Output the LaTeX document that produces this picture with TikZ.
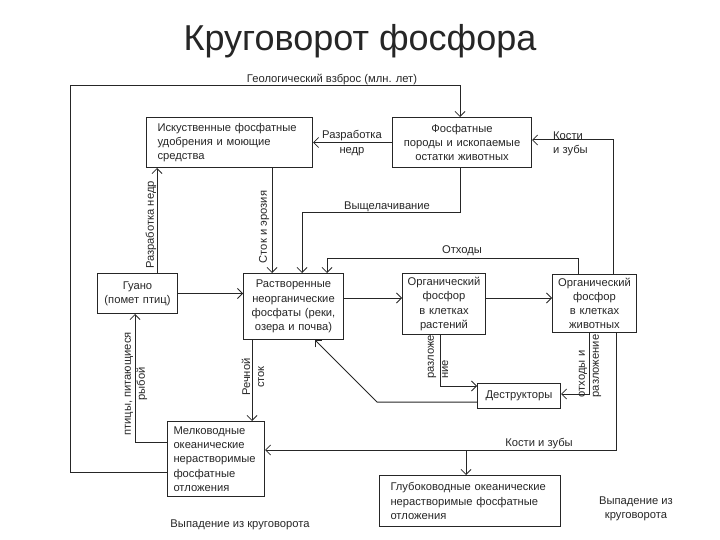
\documentclass[tikz,border=0pt]{standalone}
\usepackage{fontspec}
\setmainfont{Liberation Sans}
\usetikzlibrary{arrows.meta}
\begin{document}
\begin{tikzpicture}[x=1pt,y=-1pt,
  every node/.style={text=black!85},
  box/.style={draw=black!85, line width=1pt, inner ysep=0pt, font=\fontsize{11.2}{14.2}\selectfont, anchor=north west},
  cbox/.style={box, align=center},
  lbox/.style={box, align=left},
  conn/.style={draw=black!85, line width=1pt, -{Straight Barb[length=5pt,width=10pt,line width=0.8pt]}},
  lbl/.style={font=\fontsize{11.2}{14.2}\selectfont, inner sep=0pt},
]
\useasboundingbox (0,0) rectangle (720,540);

\node[font=\fontsize{36}{42}\selectfont, anchor=base] (title) at (360,51) {Круговорот фосфора};

% boxes
\node[lbox, text width=150pt, inner xsep=8pt, minimum height=50pt] (A) at (146,117)
  {\hspace*{3pt}Искуственные фосфатные\\\hspace*{3pt}удобрения и моющие\\\hspace*{3pt}средства};
\node[cbox, text width=131pt, inner xsep=4pt, minimum height=50pt] (B) at (392,117)
  {Фосфатные\\породы и ископаемые\\остатки животных};
\node[cbox, text width=74pt, inner xsep=3pt, minimum height=40pt] (G) at (97,273)
  {Гуано\\(помет птиц)};
\node[cbox, text width=94pt, inner xsep=3pt, minimum height=66pt] (D) at (243,273)
  {Растворенные\\неорганические\\фосфаты (реки,\\озера и почва)};
\node[cbox, text width=77pt, inner xsep=3pt, minimum height=61pt] (P) at (402,273)
  {Органический\\фосфор\\в клетках\\растений};
\node[cbox, text width=78pt, inner xsep=3pt, minimum height=58pt] (Z) at (552,274)
  {Органический\\фосфор\\в клетках\\животных};
\node[cbox, text width=77pt, inner xsep=3pt, minimum height=25pt] (R) at (477,383)
  {Деструкторы};
\node[lbox, text width=89pt, inner xsep=4pt, minimum height=75pt] (S) at (167,421)
  {\hspace*{2pt}Мелководные\\\hspace*{2pt}океанические\\\hspace*{2pt}нерастворимые\\\hspace*{2pt}фосфатные\\\hspace*{2pt}отложения};
\node[lbox, text width=171pt, inner xsep=5pt, minimum height=51pt] (Q) at (379,475)
  {\hspace*{6pt}Глубоководные океанические\\\hspace*{6pt}нерастворимые фосфатные\\\hspace*{6pt}отложения};

% connectors
\draw[conn] (S.west |- 0,472) -- (70,472) -- (70,86) -- (460,86) -- (460,0 |- B.north);
\draw[conn] (B.west) -- (A.east);
\draw[conn] (460,0 |- B.south) -- (460,213) -- (302,213) -- (302,0 |- D.north);
\draw[conn] (272,0 |- A.south) -- (272,0 |- D.north);
\draw[conn] (157,0 |- G.north) -- (157,0 |- A.south);
\draw[conn] (G.east) -- (D.west |- G.east);
\draw[conn] (D.east |- 0,298) -- (P.west |- 0,298);
\draw[conn] (P.east |- 0,298) -- (Z.west |- 0,298);
\draw[conn] (578,0 |- Z.north) -- (578,258) -- (327,258) -- (327,0 |- D.north);
\draw[conn] (613,0 |- Z.north) -- (613,140) -- (B.east |- 0,140);
\draw[conn] (440,0 |- P.south) -- (440,386) -- (R.west |- 0,386);
\draw[conn] (589,0 |- Z.south) -- (589,394) -- (R.east |- 0,394);
\draw[conn] (R.west |- 0,402) -- (377,402) -- (315,0 |- D.south);
\draw[conn] (616,0 |- Z.south) -- (616,450) -- (S.east |- 0,450);
\coordinate (split) at (466,450);
\draw[conn] (split) -- (466,0 |- Q.north);
\draw[conn] (252,0 |- D.south) -- (252,0 |- S.north);
\draw[conn] (S.west |- 0,442) -- (135,442) -- (135,0 |- G.south);

% labels
\node[lbl, anchor=base] (lgeo) at (332,83) {Геологический взброс (млн. лет)};
\node[lbl, align=center] (lrazr) at (352,143) {Разработка\\недр};
\node[lbl, align=left, anchor=west] (lkost) at (553,144) {Кости\\и зубы};
\node[lbl, anchor=base] (lvysh) at (387,210) {Выщелачивание};
\node[lbl, rotate=90] (lstok) at (264,227) {Сток и эрозия};
\node[lbl, rotate=90] (lrazr2) at (151,225) {Разработка недр};
\node[lbl, anchor=base] (lotx) at (462,254) {Отходы};
\node[lbl, rotate=90, align=left] (lrazl) at (438,357) {разложе\\ние};
\node[lbl, rotate=90, align=left] (lotxr) at (590,366) {отходы и\\разложение};
\node[lbl, rotate=90, align=center] (lptic) at (136,384) {птицы, питающиеся\\рыбой};
\node[lbl, rotate=90, align=center] (lrech) at (253,377) {Речной\\сток};
\node[lbl, anchor=base] (lkost2) at (539,446) {Кости и зубы};
\node[lbl, anchor=base] (lvyp1) at (240,527) {Выпадение из круговорота};
\node[lbl, align=center] (lvyp2) at (636,509) {Выпадение из\\круговорота};
\end{tikzpicture}
\end{document}
